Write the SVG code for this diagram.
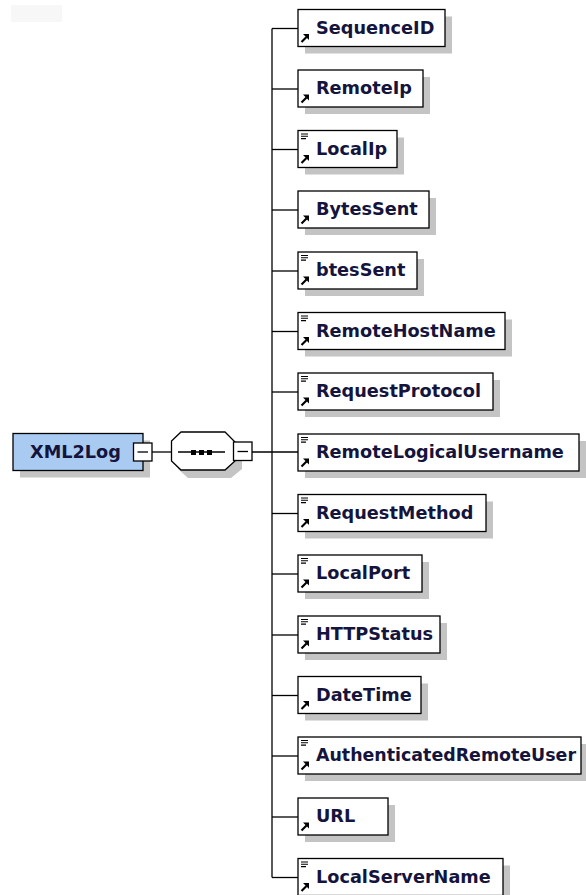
<svg xmlns="http://www.w3.org/2000/svg" xmlns:xlink="http://www.w3.org/1999/xlink" width="586" height="895" viewBox="0 0 586 895">
<style>
.bg{fill:#ffffff}
.sh{fill:#c4c4c4;stroke:none}
.box{fill:#ffffff;stroke:#000000;stroke-width:1.3}
.root{fill:#a9cbf1;stroke:#000000;stroke-width:1.3}
.lbl{font-family:"DejaVu Sans",Verdana,sans-serif;font-weight:bold;font-size:17.7px;fill:#14143c}
.ln{stroke:#000000;stroke-width:1.3;fill:none}
.mb{fill:#ffffff;stroke:#000000;stroke-width:1.3}
</style>
<defs>
<g id="arr">
<path d="M3.5,32.5 L8.5,27.5" stroke="#000" stroke-width="2.2" fill="none"/>
<polygon points="11,24.5 11,30.5 5,24.5" fill="#000"/>
</g>
<g id="doc">
<path d="M3,3.5 H10 M3,5.8 H10 M3,8.1 H8" stroke="#000" stroke-width="1.1" fill="none"/>
</g>
</defs>
<rect class="bg" x="0" y="0" width="586" height="895"/>
<rect x="11" y="5" width="51" height="17" fill="#f7f7f7"/>

<g id="connectors">
<line class="ln" x1="152" y1="452" x2="172" y2="452"/>
<line class="ln" x1="252" y1="452" x2="298" y2="452"/>
<line class="ln" x1="272" y1="28.5" x2="272" y2="877.5"/>
<line class="ln" x1="272" y1="28.5" x2="298" y2="28.5"/>
<line class="ln" x1="272" y1="89" x2="298" y2="89"/>
<line class="ln" x1="272" y1="149.5" x2="298" y2="149.5"/>
<line class="ln" x1="272" y1="210" x2="298" y2="210"/>
<line class="ln" x1="272" y1="271" x2="298" y2="271"/>
<line class="ln" x1="272" y1="331.5" x2="298" y2="331.5"/>
<line class="ln" x1="272" y1="392" x2="298" y2="392"/>
<line class="ln" x1="272" y1="513.5" x2="298" y2="513.5"/>
<line class="ln" x1="272" y1="574" x2="298" y2="574"/>
<line class="ln" x1="272" y1="635" x2="298" y2="635"/>
<line class="ln" x1="272" y1="695.5" x2="298" y2="695.5"/>
<line class="ln" x1="272" y1="756" x2="298" y2="756"/>
<line class="ln" x1="272" y1="817" x2="298" y2="817"/>
<line class="ln" x1="272" y1="877.5" x2="298" y2="877.5"/>
</g>

<g id="XML2Log">
<rect class="sh" x="20" y="440.5" width="130" height="37"/>
<rect class="root" x="13" y="433.5" width="130" height="37"/>
<text class="lbl" x="30" y="457.5">XML2Log</text>
<rect class="mb" x="133.5" y="443" width="18.5" height="18"/>
<line class="ln" x1="137.5" y1="452" x2="148" y2="452"/>
</g>

<g id="sequence">
<polygon class="sh" points="188,439 231,439 242,450 242,469 231,478 188,478 178,469 178,450"/>
<polygon class="box" points="181,432 225,432 235,442 235,461 225,470 181,470 171.5,461 171.5,441"/>
<line class="ln" x1="178" y1="452" x2="225" y2="452"/>
<rect x="191" y="450" width="5" height="5" fill="#000"/>
<rect x="199" y="450" width="5" height="5" fill="#000"/>
<rect x="207" y="450" width="5" height="5" fill="#000"/>
<rect class="mb" x="233.5" y="442" width="18.5" height="18.5"/>
<line class="ln" x1="237.5" y1="451.5" x2="248" y2="451.5"/>
</g>

<g id="SequenceID" transform="translate(0,9.5)">
<rect class="sh" x="305" y="7" width="147" height="37"/>
<rect class="box" x="298" y="0" width="147" height="37"/>
<use xlink:href="#arr" x="298"/>
<text class="lbl" x="316" y="24">SequenceID</text>
</g>
<g id="RemoteIp" transform="translate(0,70)">
<rect class="sh" x="305" y="7" width="125" height="37"/>
<rect class="box" x="298" y="0" width="125" height="37"/>
<use xlink:href="#arr" x="298"/>
<text class="lbl" x="316" y="24">RemoteIp</text>
</g>
<g id="LocalIp" transform="translate(0,130.5)">
<rect class="sh" x="305" y="7" width="99" height="37"/>
<rect class="box" x="298" y="0" width="99" height="37"/>
<use xlink:href="#doc" x="298"/>
<use xlink:href="#arr" x="298"/>
<text class="lbl" x="316" y="24">LocalIp</text>
</g>
<g id="BytesSent" transform="translate(0,191)">
<rect class="sh" x="305" y="7" width="131" height="37"/>
<rect class="box" x="298" y="0" width="131" height="37"/>
<use xlink:href="#arr" x="298"/>
<text class="lbl" x="316" y="24">BytesSent</text>
</g>
<g id="btesSent" transform="translate(0,252)">
<rect class="sh" x="305" y="7" width="119" height="37"/>
<rect class="box" x="298" y="0" width="119" height="37"/>
<use xlink:href="#doc" x="298"/>
<use xlink:href="#arr" x="298"/>
<text class="lbl" x="316" y="24">btesSent</text>
</g>
<g id="RemoteHostName" transform="translate(0,312.5)">
<rect class="sh" x="305" y="7" width="207" height="37"/>
<rect class="box" x="298" y="0" width="207" height="37"/>
<use xlink:href="#doc" x="298"/>
<use xlink:href="#arr" x="298"/>
<text class="lbl" x="316" y="24">RemoteHostName</text>
</g>
<g id="RequestProtocol" transform="translate(0,373)">
<rect class="sh" x="305" y="7" width="195" height="37"/>
<rect class="box" x="298" y="0" width="195" height="37"/>
<use xlink:href="#doc" x="298"/>
<use xlink:href="#arr" x="298"/>
<text class="lbl" x="316" y="24">RequestProtocol</text>
</g>
<g id="RemoteLogicalUsername" transform="translate(0,434)">
<rect class="sh" x="305" y="7" width="281" height="37"/>
<rect class="box" x="298" y="0" width="281" height="37"/>
<use xlink:href="#doc" x="298"/>
<use xlink:href="#arr" x="298"/>
<text class="lbl" x="316" y="24">RemoteLogicalUsername</text>
</g>
<g id="RequestMethod" transform="translate(0,494.5)">
<rect class="sh" x="305" y="7" width="188" height="37"/>
<rect class="box" x="298" y="0" width="188" height="37"/>
<use xlink:href="#doc" x="298"/>
<use xlink:href="#arr" x="298"/>
<text class="lbl" x="316" y="24">RequestMethod</text>
</g>
<g id="LocalPort" transform="translate(0,555)">
<rect class="sh" x="305" y="7" width="124" height="37"/>
<rect class="box" x="298" y="0" width="124" height="37"/>
<use xlink:href="#doc" x="298"/>
<use xlink:href="#arr" x="298"/>
<text class="lbl" x="316" y="24">LocalPort</text>
</g>
<g id="HTTPStatus" transform="translate(0,616)">
<rect class="sh" x="305" y="7" width="142" height="37"/>
<rect class="box" x="298" y="0" width="142" height="37"/>
<use xlink:href="#doc" x="298"/>
<use xlink:href="#arr" x="298"/>
<text class="lbl" x="316" y="24">HTTPStatus</text>
</g>
<g id="DateTime" transform="translate(0,676.5)">
<rect class="sh" x="305" y="7" width="123" height="37"/>
<rect class="box" x="298" y="0" width="123" height="37"/>
<use xlink:href="#arr" x="298"/>
<text class="lbl" x="316" y="24">DateTime</text>
</g>
<g id="AuthenticatedRemoteUser" transform="translate(0,737)">
<rect class="sh" x="305" y="7" width="283" height="37"/>
<rect class="box" x="298" y="0" width="283" height="37"/>
<use xlink:href="#doc" x="298"/>
<use xlink:href="#arr" x="298"/>
<text class="lbl" x="316" y="24" textLength="260" lengthAdjust="spacingAndGlyphs">AuthenticatedRemoteUser</text>
</g>
<g id="URL" transform="translate(0,798)">
<rect class="sh" x="305" y="7" width="90" height="37"/>
<rect class="box" x="298" y="0" width="90" height="37"/>
<use xlink:href="#arr" x="298"/>
<text class="lbl" x="316" y="24">URL</text>
</g>
<g id="LocalServerName" transform="translate(0,858.5)">
<rect class="sh" x="305" y="7" width="205" height="37"/>
<rect class="box" x="298" y="0" width="205" height="37"/>
<use xlink:href="#doc" x="298"/>
<use xlink:href="#arr" x="298"/>
<text class="lbl" x="316" y="24">LocalServerName</text>
</g>
</svg>
